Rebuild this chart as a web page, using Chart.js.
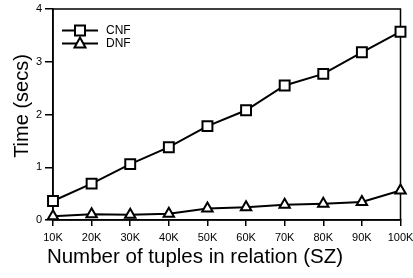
<!DOCTYPE html>
<html>
<head>
<meta charset="utf-8">
<script src="https://cdn.jsdelivr.net/npm/chart.js@4/dist/chart.umd.min.js"></script>
<style>
html, body { margin: 0; padding: 0; background: #fff; }
</style>
</head>
<body>
<canvas id="chart" width="413" height="278"></canvas>
<script>
// data
const sizes = ['10K', '20K', '30K', '40K', '50K', '60K', '70K', '80K', '90K', '100K'];
const cnfTimes = [0.36, 0.69, 1.06, 1.38, 1.78, 2.08, 2.55, 2.77, 3.18, 3.57];
const dnfTimes = [0.07, 0.11, 0.10, 0.12, 0.22, 0.24, 0.29, 0.31, 0.34, 0.56];
const yTicks = [0, 1, 2, 3, 4];

const FONT = 'Liberation Sans, Arial, Helvetica, sans-serif';

// frame around the plot (top + right sides too)
const framePlugin = {
    id: 'frame',
    beforeDatasetsDraw(chart) {
        const a = chart.chartArea;
        const ctx = chart.ctx;
        ctx.save();
        ctx.strokeStyle = '#000';
        ctx.lineWidth = 1.5;
        ctx.strokeRect(a.left, a.top, a.right - a.left, a.bottom - a.top);
        ctx.restore();
    }
};

// axis titles placed where the original has them
const titlesPlugin = {
    id: 'axisTitles',
    afterDraw(chart) {
        const ctx = chart.ctx;
        ctx.save();
        ctx.fillStyle = '#000';
        ctx.font = '20.5px ' + FONT;
        ctx.textAlign = 'center';
        ctx.textBaseline = 'alphabetic';
        ctx.fillText('Number of tuples in relation (SZ)', 195, 263);
        ctx.font = '20px ' + FONT;
        ctx.translate(28, 106);
        ctx.rotate(-Math.PI / 2);
        ctx.fillText('Time (secs)', 0, 0);
        ctx.restore();
    }
};

// legend with line + marker, like the original
const legendPlugin = {
    id: 'lineLegend',
    afterDraw(chart) {
        const ctx = chart.ctx;
        const a = chart.chartArea;
        ctx.save();
        chart.data.datasets.forEach((ds, i) => {
            const y = a.top + 21.5 + i * 13;
            const x0 = a.left + 9, x1 = a.left + 45, xm = (x0 + x1) / 2;
            ctx.strokeStyle = '#000';
            ctx.lineWidth = 2;
            ctx.beginPath();
            ctx.moveTo(x0, y);
            ctx.lineTo(x1, y);
            ctx.stroke();
            ctx.fillStyle = '#fff';
            ctx.beginPath();
            if (ds.pointStyle === 'rect') {
                ctx.rect(xm - 5, y - 5, 10, 10);
            } else {
                ctx.moveTo(xm, y - 6);
                ctx.lineTo(xm + 5.5, y + 4);
                ctx.lineTo(xm - 5.5, y + 4);
                ctx.closePath();
            }
            ctx.fill();
            ctx.stroke();
            ctx.fillStyle = '#000';
            ctx.font = '12px ' + FONT;
            ctx.textBaseline = 'middle';
            ctx.fillText(ds.label, x1 + 8, y);
        });
        ctx.restore();
    }
};

new Chart(document.getElementById('chart'), {
    type: 'line',
    data: {
        labels: sizes,
        datasets: [
            {
                label: 'CNF',
                data: cnfTimes,
                borderColor: '#000',
                borderWidth: 2,
                pointStyle: 'rect',
                pointRadius: 7,
                pointBorderWidth: 2,
                pointBackgroundColor: '#fff',
                pointBorderColor: '#000',
                clip: false
            },
            {
                label: 'DNF',
                data: dnfTimes,
                borderColor: '#000',
                borderWidth: 2,
                pointStyle: 'triangle',
                pointRadius: 6,
                pointBorderWidth: 2,
                pointBackgroundColor: '#fff',
                pointBorderColor: '#000',
                clip: false
            }
        ]
    },
    options: {
        responsive: false,
        animation: false,
        layout: { padding: { top: 3.5, right: 12.5, left: 0, bottom: 0 } },
        plugins: {
            legend: { display: false },
            tooltip: { enabled: false }
        },
        scales: {
            x: {
                offset: false,
                grid: { drawOnChartArea: false, drawTicks: true, tickLength: 6, color: '#000', lineWidth: 1.5 },
                border: { display: true, color: '#000', width: 1.5 },
                ticks: { color: '#000', font: { family: FONT, size: 11 }, padding: 5, maxRotation: 0, autoSkip: false },
                title: { display: false },
                afterFit(scale) {
                    scale.height = 58;
                    scale.paddingLeft = 0;
                    scale.paddingRight = 0;
                }
            },
            y: {
                min: 0,
                max: 4,
                afterBuildTicks(scale) { scale.ticks = yTicks.map(v => ({ value: v })); },
                grid: { drawOnChartArea: false, drawTicks: true, tickLength: 8, color: '#000', lineWidth: 1.5 },
                border: { display: true, color: '#000', width: 1.5 },
                ticks: { color: '#000', font: { family: FONT, size: 11 }, padding: 3 },
                title: { display: false },
                afterFit(scale) {
                    scale.width = 53;
                    scale.paddingTop = 0;
                    scale.paddingBottom = 0;
                }
            }
        }
    },
    plugins: [framePlugin, titlesPlugin, legendPlugin]
});
</script>
</body>
</html>
